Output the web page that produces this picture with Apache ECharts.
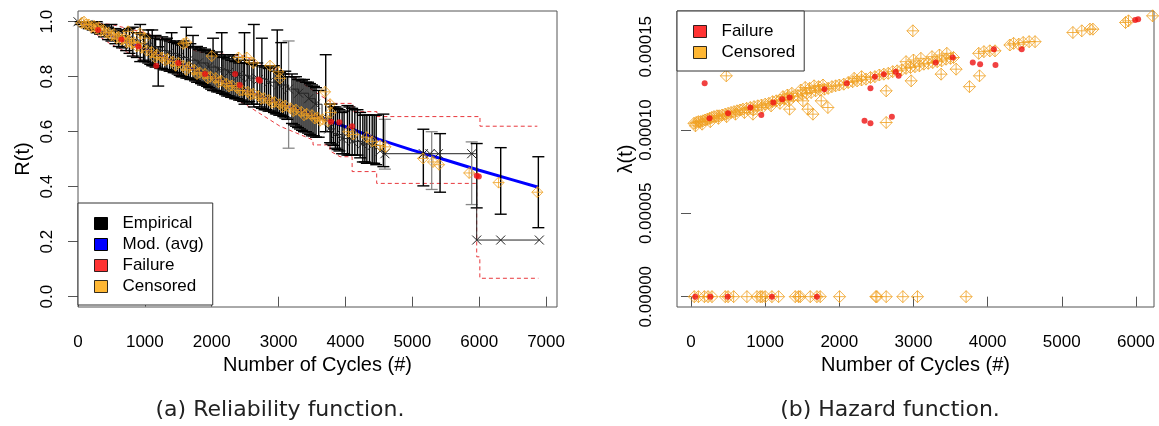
<!DOCTYPE html>
<html>
<head>
<meta charset="utf-8">
<script src="https://cdn.jsdelivr.net/npm/echarts@6/dist/echarts.min.js"></script>
<style>
  html, body { margin: 0; background: #fff; }
  #chart { width: 1159px; height: 426px; }
</style>
</head>
<body>
<div id="chart"></div>
<script>
// ---- (a) reliability: values ----
const relTicksX = [0, 1000, 2000, 3000, 4000, 5000, 6000, 7000];
const relTicksY = [0, 0.2, 0.4, 0.6, 0.8, 1.0];

// Kaplan-Meier steps [cycles, R]
const kmPoints = [[0,1.0],[150,0.99],[300,0.98],[450,0.965],[600,0.95],[750,0.935],[900,0.92],[1050,0.91],
  [1200,0.895],[1350,0.885],[1500,0.87],[1650,0.86],[1800,0.85],[1950,0.835],[2100,0.825],[2250,0.815],
  [2400,0.805],[2550,0.795],[2700,0.79],[2850,0.78],[3000,0.77],[3150,0.755],[3300,0.74],[3450,0.72],
  [3550,0.70],[3650,0.65],[3750,0.61],[3850,0.59],[3950,0.575],[4100,0.565],[4250,0.555],[4400,0.55],
  [4520,0.53],[4590,0.52],[5165,0.52],[5265,0.52],[5390,0.52],[5888,0.52],[5963,0.206],[6322,0.206],[6900,0.206]];

// error bars [cycles, low, high]
const errBars = [[40,0.99,1.0],[100,0.982,1.0],[160,0.975,0.998],[220,0.97,0.995],[280,0.96,1.0],[330,0.955,0.99],
  [390,0.945,0.985],[450,0.935,0.98],[500,0.93,0.99],[560,0.92,0.975],[610,0.91,0.97],[660,0.905,0.965],
  [720,0.895,0.97],[770,0.885,0.975],[820,0.875,0.98],[880,0.87,0.96],[930,0.855,0.99],[980,0.86,0.955],
  [1000,0.855,0.95],[1050,0.85,0.97],[1080,0.845,0.945],[1110,0.84,0.97],[1140,0.84,0.94],[1160,0.835,0.95],
  [1200,0.766,0.909],[1230,0.83,0.935],[1260,0.83,0.945],[1300,0.825,0.935],[1330,0.825,0.94],[1370,0.82,0.93],
  [1400,0.82,0.96],[1430,0.815,0.925],[1460,0.815,0.93],[1490,0.81,0.92],[1520,0.805,0.925],[1550,0.8,0.915],
  [1580,0.8,0.93],[1620,0.795,0.98],[1650,0.795,0.91],[1680,0.79,0.92],[1720,0.79,0.95],[1750,0.785,0.905],
  [1780,0.78,0.91],[1810,0.78,0.9],[1840,0.775,0.905],[1870,0.77,0.895],[1900,0.77,0.9],[1930,0.765,0.89],
  [1960,0.76,0.895],[1990,0.755,0.885],[2020,0.75,0.94],[2050,0.75,0.88],[2080,0.745,0.89],[2110,0.745,0.875],
  [2150,0.74,0.96],[2170,0.74,0.87],[2200,0.735,0.88],[2230,0.73,0.865],[2260,0.73,0.875],[2290,0.725,0.86],
  [2320,0.725,0.88],[2350,0.72,0.855],[2380,0.72,0.87],[2410,0.715,0.85],[2440,0.715,0.86],[2470,0.71,0.85],
  [2490,0.70,0.96],[2530,0.705,0.85],[2560,0.71,0.86],[2600,0.70,0.845],[2630,0.69,0.99],[2680,0.70,0.85],
  [2720,0.69,0.84],[2750,0.685,0.94],[2790,0.68,0.835],[2820,0.68,0.84],[2850,0.675,0.83],[2880,0.675,0.835],
  [2930,0.67,0.84],[2960,0.665,0.82],[2980,0.665,0.97],[3010,0.66,0.815],[3040,0.66,0.924],[3070,0.655,0.81],
  [3100,0.65,0.82],[3130,0.645,0.8],[3200,0.63,0.81],[3230,0.625,0.8],[3260,0.62,0.8],[3290,0.615,0.79],
  [3320,0.61,0.79],[3350,0.605,0.785],[3380,0.60,0.79],[3410,0.60,0.78],[3440,0.595,0.78],[3470,0.59,0.775],
  [3500,0.585,0.77],[3530,0.585,0.765],[3560,0.58,0.76],[3600,0.58,0.75],[3705,0.60,0.88],[3770,0.56,0.70],
  [3790,0.555,0.70],[3820,0.55,0.69],[3850,0.54,0.69],[3880,0.535,0.685],[3910,0.53,0.68],[3950,0.52,0.67],
  [3980,0.52,0.675],[4030,0.515,0.695],[4060,0.515,0.69],[4100,0.515,0.685],[4140,0.515,0.68],[4180,0.515,0.68],
  [4220,0.505,0.67],[4260,0.49,0.66],[4290,0.49,0.66],[4320,0.485,0.66],[4360,0.485,0.66],[4400,0.485,0.66],
  [4430,0.485,0.66],[4460,0.48,0.66],[4567,0.473,0.664],[5165,0.403,0.609],[5415,0.38,0.593],
  [5963,0.323,0.557],[6322,0.30,0.542],[6885,0.251,0.509]];
const errBarsFaint = [[3150,0.54,0.93],[4590,0.464,0.645],[5290,0.39,0.60],[5888,0.335,0.563]];

// averaged model curve
const modelCurve = [[0,1.0],[500,0.95],[1000,0.90],[1500,0.85],[2000,0.80],[2500,0.75],[3000,0.705],
  [3500,0.662],[4000,0.618],[4500,0.572],[5000,0.533],[5500,0.497],[6000,0.46],[6500,0.425],[6885,0.398]];

// confidence bounds (dashed)
const upperBound = [[0,1.0],[500,0.99],[1000,0.96],[1500,0.92],[1800,0.89],[2500,0.875],[2722,0.843],
  [3021,0.824],[3216,0.80],[3575,0.74],[3700,0.72],[3814,0.703],[4113,0.703],[4113,0.673],[4470,0.673],
  [4470,0.655],[6012,0.655],[6012,0.62],[6870,0.62]];
const lowerBound = [[0,1.0],[479,0.92],[1177,0.836],[1720,0.788],[2500,0.70],[3021,0.62],[3515,0.57],
  [3515,0.552],[3769,0.552],[3769,0.53],[3919,0.509],[4100,0.509],[4100,0.455],[4467,0.455],[4467,0.412],
  [5963,0.412],[5963,0.145],[6010,0.145],[6010,0.067],[6885,0.067]];

const relFailure = [[300,0.97],[650,0.935],[900,0.91],[1170,0.84],[1500,0.85],[1900,0.81],[2350,0.81],
  [2420,0.77],[2700,0.79],[2720,0.785],[3785,0.636],[3908,0.634],[4100,0.62],[5963,0.44],[5995,0.437]];

const relCensored = [[50,0.995],[120,0.99],[200,0.98],[270,0.975],[340,0.967],[420,0.96],[500,0.95],
  [580,0.94],[650,0.935],[730,0.925],[800,0.92],[880,0.91],[950,0.905],[1030,0.895],[1100,0.89],[1180,0.88],
  [1260,0.87],[1340,0.865],[1420,0.855],[1500,0.85],[1580,0.84],[1660,0.835],[1740,0.825],[1820,0.815],
  [1900,0.81],[1980,0.8],[2060,0.795],[2140,0.785],[2220,0.775],[2300,0.768],[2380,0.76],[2460,0.75],
  [2540,0.745],[2620,0.738],[2700,0.73],[2780,0.722],[2860,0.715],[2940,0.708],[3020,0.70],[3100,0.695],
  [3180,0.685],[3260,0.68],[3340,0.672],[3420,0.665],[3500,0.66],[3580,0.652],[3660,0.645],[3740,0.638],
  [90,1.0],[160,0.99],[240,0.985],[310,0.98],[380,0.97],[460,0.96],[540,0.955],[610,0.945],[690,0.94],
  [770,0.93],[840,0.925],[1150,0.87],[1300,0.86],[1460,0.84],[1620,0.825],[1780,0.81],[1940,0.795],
  [2100,0.78],[2260,0.765],[2420,0.75],[2580,0.735],[2740,0.72],[2900,0.705],[3060,0.69],[3220,0.675],
  [3380,0.66],[3540,0.648],[3620,0.64],
  [750,0.965],[927,0.958],[1000,0.94],[1575,0.92],[1620,0.925],[2000,0.875],[2400,0.87],[2523,0.87],
  [2622,0.85],[2872,0.84],[2996,0.818],[3021,0.794],[3695,0.745],[3770,0.70],[3780,0.67],[4043,0.60],
  [4117,0.59],[4317,0.58],[4400,0.565],[4517,0.55],[4600,0.545],[5160,0.503],[5310,0.49],[5400,0.48],
  [5850,0.45],[6290,0.415],[6870,0.38]];

// ---- (b) hazard: values in units of 1e-5 ----
const hazTicksX = [0, 1000, 2000, 3000, 4000, 5000, 6000];
const hazTicksY = [0, 5, 10, 15];

const hazCensored = [[40,10.4],[70,10.45],[100,10.5],[130,10.5],[160,10.55],[190,10.6],[220,10.65],[250,10.7],
  [280,10.75],[310,10.8],[350,10.85],[380,10.85],[420,10.9],[460,10.95],[500,11.0],[540,11.05],[580,11.1],
  [620,11.15],[660,11.2],[700,11.25],[750,11.3],[800,11.35],[850,11.4],[900,11.45],[950,11.5],[1000,11.55],
  [1050,11.6],[1100,11.7],[1150,11.75],[1200,11.8],[1260,11.85],[1320,11.95],[1380,12.0],[1440,12.05],
  [1500,12.15],[1560,12.2],[1620,12.25],[1680,12.35],[1740,12.4],[1800,12.45],[1850,12.5],[1900,12.6],
  [1950,12.65],[2000,12.7],[2060,12.75],[2120,12.85],[2180,12.9],[2240,12.95],[2300,13.0],[2360,13.05],
  [2420,13.15],[2480,13.2],[2540,13.3],[2600,13.35],[2660,13.4],[2720,13.5],[2780,13.55],[2840,13.6],
  [2900,13.7],[2960,13.75],[3020,13.8],[3080,13.85],[3140,13.95],[3200,14.0],[3260,14.05],[3320,14.1],
  [3380,14.15],[3440,14.25],[3500,14.3],[3540,14.35],
  [60,10.25],[150,10.35],[260,10.5],[370,10.7],[480,10.8],[600,10.95],[720,11.05],[840,11.2],[960,11.35],
  [1080,11.45],[1200,11.6],[1320,11.75],[1240,12.0],[1300,12.1],[1360,12.2],
  [1480,12.4],[1540,12.55],[1600,12.5],[1660,12.65],[1720,12.6],[1780,12.7],[2200,13.1],[2300,13.2],
  [2900,14.1],[3000,14.2],[3100,14.3],[3250,14.4],[3350,14.5],[3450,14.6],
  [3880,14.6],[3950,14.7],[4030,14.75],[4100,14.75],[4300,15.1],[4350,15.2],[4420,15.15],[4480,15.25],
  [4560,15.3],[4640,15.3],[5150,15.85],[5270,15.95],[5380,16.05],[5420,16.05],[5860,16.45],[5900,16.55],
  [6225,16.85],
  [476,13.25],[2992,15.95],[835,10.95],[1329,11.25],[1576,11.25],[1644,10.95],[1846,11.35],[1756,11.75],
  [1509,11.75],[2632,12.35],[2632,10.45],[2969,12.95],[3373,13.35],[3575,13.65],[3755,12.6],[3890,13.25],
  [44,0],[100,0],[180,0],[230,0],[283,0],[462,0],[500,0],[575,0],[754,0],[889,0],[934,0],[960,0],[1001,0],
  [1091,0],[1181,0],[1406,0],[1450,0],[1473,0],[1608,0],[1698,0],[1743,0],[2003,0],[2493,0],[2507,0],
  [2632,0],[2857,0],[3054,0],[3710,0]];

const hazFailure = [[184,12.8],[948,10.9],[2340,10.55],[2420,10.4],[2709,10.8],[2420,12.5],[3800,14.05],
  [3899,13.95],[4106,13.9],[4460,14.85],[4085,14.85],[5990,16.6],[6030,16.65],[1110,11.65],[1230,11.85],
  [1330,11.95],[1800,12.45],[2100,12.8],[2480,13.2],[2600,13.35],[2760,13.5],[2800,13.25],[3530,14.35],
  [500,11.0],[800,11.35],[250,10.7],[3300,14.05],
  [57,0],[260,0],[494,0],[1091,0],[1698,0]];

// ---- styling ----
const FONT = "'Liberation Sans', Arial, sans-serif";
const CAPTION_FONT = "22px 'DejaVu Sans', sans-serif";
const ORANGE = '#f0a020';
const RED = '#ee1111';
const BOX = '#555';
const diamondPlus = 'path://M10,0L20,10L10,20L0,10ZM0,10L20,10M10,0L10,20';
const cross = 'path://M0,0L10,10M10,0L0,10';

function errBarRenderer(color, width) {
  return function (params, api) {
    const x = api.value(0);
    const top = api.coord([x, api.value(2)]);
    const bot = api.coord([x, api.value(1)]);
    const w = 6;
    const st = { stroke: color, lineWidth: width };
    return {
      type: 'group',
      children: [
        { type: 'line', shape: { x1: top[0], y1: top[1], x2: bot[0], y2: bot[1] }, style: st },
        { type: 'line', shape: { x1: top[0] - w, y1: top[1], x2: top[0] + w, y2: top[1] }, style: st },
        { type: 'line', shape: { x1: bot[0] - w, y1: bot[1], x2: bot[0] + w, y2: bot[1] }, style: st }
      ]
    };
  };
}

function xAxisOf(grid, min, max, ticks) {
  return {
    type: 'value', gridIndex: grid, min: min, max: max,
    name: 'Number of Cycles (#)', nameLocation: 'middle', nameGap: 46,
    nameTextStyle: { fontFamily: FONT, fontSize: 20, color: '#000' },
    axisLine: { show: false },
    axisTick: { show: true, inside: false, length: 10, customValues: ticks, lineStyle: { color: BOX } },
    axisLabel: { customValues: ticks, margin: 27, fontFamily: FONT, fontSize: 17, color: '#000', formatter: v => String(v) },
    splitLine: { show: false }
  };
}

function yAxisOf(grid, min, max, ticks, name, gap, fmt) {
  return {
    type: 'value', gridIndex: grid, min: min, max: max,
    name: name, nameLocation: 'middle', nameGap: gap, nameRotate: 90,
    nameTextStyle: { fontFamily: FONT, fontSize: 20, color: '#000' },
    axisLine: { show: false },
    axisTick: { show: true, inside: false, length: 10, customValues: ticks, lineStyle: { color: BOX } },
    axisLabel: { customValues: ticks, rotate: 90, margin: 22, fontFamily: FONT, fontSize: 17, color: '#000', formatter: fmt },
    splitLine: { show: false }
  };
}

function legendOf(left, top, names, pad) {
  const fills = { 'Empirical': '#000', 'Mod. (avg)': '#0000ff', 'Failure': '#ff0000', 'Censored': '#ffa500' };
  return {
    orient: 'vertical', left: left, top: top, selectedMode: false,
    backgroundColor: '#fff', borderColor: '#333', borderWidth: 1, borderRadius: 0,
    padding: pad, itemGap: 4, itemWidth: 13, itemHeight: 12,
    textStyle: { fontFamily: FONT, fontSize: 17, color: '#000', padding: [0, 0, 0, 10] },
    data: names.map(n => ({ name: n, icon: 'rect', itemStyle: { color: fills[n], borderColor: '#000', borderWidth: 1 } }))
  };
}

const chart = echarts.init(document.getElementById('chart'), null, { renderer: 'canvas' });
chart.setOption({
  animation: false,
  backgroundColor: '#fff',
  grid: [
    { left: 78, top: 11, width: 479, height: 296, show: true, borderColor: BOX, borderWidth: 1, backgroundColor: 'transparent' },
    { left: 677, top: 11, width: 477, height: 296, show: true, borderColor: BOX, borderWidth: 1, backgroundColor: 'transparent' }
  ],
  xAxis: [
    xAxisOf(0, 0, 7164, relTicksX),
    xAxisOf(1, -189, 6244, hazTicksX)
  ],
  yAxis: [
    yAxisOf(0, -0.0375, 1.039, relTicksY, 'R(t)', 45, v => v.toFixed(1)),
    yAxisOf(1, -0.62, 17.14, hazTicksY, 'λ(t)', 41, v => (v * 1e-5).toFixed(5))
  ],
  legend: [
    legendOf(78, 203, ['Empirical', 'Mod. (avg)', 'Failure', 'Censored'], [12, 9, 10, 16]),
    legendOf(677, 11, ['Failure', 'Censored'], [12, 9, 10, 16])
  ],
  graphic: [
    { type: 'text', x: 280, y: 410, style: { text: '(a) Reliability function.', font: CAPTION_FONT, fill: '#222', textAlign: 'center', textVerticalAlign: 'middle' } },
    { type: 'text', x: 890, y: 410, style: { text: '(b) Hazard function.', font: CAPTION_FONT, fill: '#222', textAlign: 'center', textVerticalAlign: 'middle' } }
  ],
  series: [
    { name: 'Mod. (avg)', type: 'line', xAxisIndex: 0, yAxisIndex: 0, data: modelCurve, symbol: 'none',
      lineStyle: { color: '#0000ff', width: 3 }, z: 1 },
    { name: 'Bounds', type: 'line', xAxisIndex: 0, yAxisIndex: 0, data: upperBound, symbol: 'none',
      lineStyle: { color: '#e8383d', width: 1, type: [4, 3] }, z: 1 },
    { name: 'Bounds', type: 'line', xAxisIndex: 0, yAxisIndex: 0, data: lowerBound, symbol: 'none',
      lineStyle: { color: '#e8383d', width: 1, type: [4, 3] }, z: 1 },
    { name: 'Empirical', type: 'custom', xAxisIndex: 0, yAxisIndex: 0, data: errBarsFaint,
      encode: { x: 0, y: [1, 2] }, renderItem: errBarRenderer('#888', 1.3), z: 2 },
    { name: 'Empirical', type: 'custom', xAxisIndex: 0, yAxisIndex: 0, data: errBars,
      encode: { x: 0, y: [1, 2] }, renderItem: errBarRenderer('#000', 1.4), z: 2 },
    { name: 'Empirical', type: 'line', xAxisIndex: 0, yAxisIndex: 0, data: kmPoints, step: 'end',
      symbol: cross, symbolSize: 9, lineStyle: { color: '#222', width: 1 },
      itemStyle: { color: 'transparent', borderColor: '#222', borderWidth: 1 }, z: 3 },
    { name: 'Censored', type: 'scatter', xAxisIndex: 0, yAxisIndex: 0, data: relCensored, symbol: diamondPlus, symbolSize: 11,
      itemStyle: { color: 'transparent', borderColor: ORANGE, borderWidth: 1 }, z: 4 },
    { name: 'Failure', type: 'scatter', xAxisIndex: 0, yAxisIndex: 0, data: relFailure, symbol: 'circle', symbolSize: 6,
      itemStyle: { color: RED }, z: 5 },

    { name: 'Censored', type: 'scatter', xAxisIndex: 1, yAxisIndex: 1, data: hazCensored, symbol: diamondPlus, symbolSize: 12,
      itemStyle: { color: 'transparent', borderColor: ORANGE, borderWidth: 1 }, z: 2 },
    { name: 'Failure', type: 'scatter', xAxisIndex: 1, yAxisIndex: 1, data: hazFailure, symbol: 'circle', symbolSize: 6,
      itemStyle: { color: RED }, z: 3 }
  ]
});
</script>
</body>
</html>
